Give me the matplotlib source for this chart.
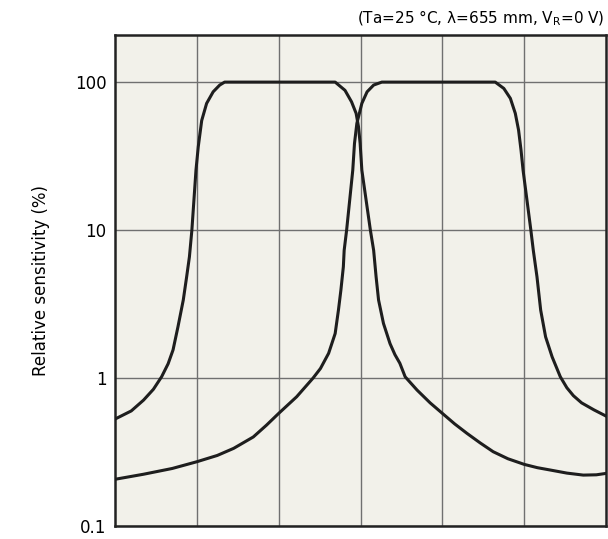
import matplotlib.pyplot as plt

# x in grid units (6 divisions, no labels), y in %
x_left = [0.0, 0.2, 0.35, 0.47, 0.57, 0.65, 0.71, 0.77, 0.835, 0.876, 0.91, 0.94, 0.99,
          1.018, 1.06, 1.12, 1.20, 1.28, 1.34,
          2.69, 2.81, 2.89, 2.946, 2.975, 2.995, 3.016, 3.12, 3.16, 3.19, 3.22,
          3.28, 3.36, 3.42, 3.48, 3.545, 3.69, 3.85, 4.0, 4.15, 4.3, 4.46, 4.62,
          4.8, 5.0, 5.16, 5.32, 5.52, 5.72, 5.88, 6.0]
y_left = [0.528, 0.6, 0.71, 0.84, 1.02, 1.25, 1.55, 2.22, 3.37, 4.83, 6.6, 10, 25.4,
          36.6, 55, 71.8, 86, 95.5, 100,
          100, 88, 73.6, 61.5, 49.9, 38.5, 25.4, 10, 7.3, 4.83, 3.37,
          2.34, 1.71, 1.44, 1.26, 1.02, 0.83, 0.68, 0.577, 0.49, 0.423, 0.365, 0.318,
          0.285, 0.261, 0.248, 0.239, 0.228, 0.221, 0.222, 0.227]

x_right = [0.0, 0.35, 0.7, 1.0, 1.25, 1.45, 1.69, 1.85, 2.0, 2.22, 2.42, 2.51, 2.61,
           2.69, 2.73, 2.76, 2.79, 2.80, 2.83, 2.905, 2.926, 2.955, 3.016, 3.08,
           3.16, 3.26,
           4.645, 4.75, 4.83, 4.89, 4.93, 4.96, 4.985, 5.08, 5.11, 5.155, 5.20,
           5.26, 5.34, 5.44, 5.52, 5.60, 5.70, 5.85, 6.0]
y_right = [0.207, 0.224, 0.245, 0.272, 0.30, 0.335, 0.40, 0.48, 0.577, 0.748, 1.0,
           1.16, 1.47, 2.0, 2.88, 3.93, 5.65, 7.3, 10, 25.4, 38.5, 52.6, 71.8, 86,
           95.5, 100,
           100, 90.6, 77.6, 61.5, 47.4, 34.7, 25.4, 10, 7.3, 4.83, 2.88,
           1.9, 1.39, 1.02, 0.86, 0.76, 0.68, 0.61, 0.553]

ytick_vals = [0.1, 1, 10, 100]
ytick_labels = ['0.1', '1', '10', '100']

fig = plt.figure(figsize=(6.08, 5.39), dpi=100)
ax = fig.add_axes([0.189, 0.024, 0.808, 0.911])
ax.set_facecolor('#f2f1ea')

ax.plot(x_left, y_left, color='#1e1e1e', lw=2.2, solid_joinstyle='round', zorder=3)
ax.plot(x_right, y_right, color='#1e1e1e', lw=2.2, solid_joinstyle='round', zorder=3)

ax.set_yscale('log')
ax.set_ylim(0.1, 208)
ax.set_xlim(0, 6)
ax.set_yticks(ytick_vals)
ax.set_yticklabels(ytick_labels)
ax.minorticks_off()
ax.set_xticks([1, 2, 3, 4, 5])
ax.set_xticklabels([])
ax.tick_params(length=0, labelsize=12, pad=6)
ax.grid(True, color='#707070', lw=1)
for s in ax.spines.values():
    s.set_color('#222222')
    s.set_linewidth(1.8)

ax.set_ylabel('Relative sensitivity (%)', fontsize=12, labelpad=18)
fig.text(0.994, 0.966, r'(Ta=25 °C, λ=655 mm, V$_{\rm R}$=0 V)', ha='right', va='center', fontsize=11)

fig.savefig('out.png', dpi=100)
